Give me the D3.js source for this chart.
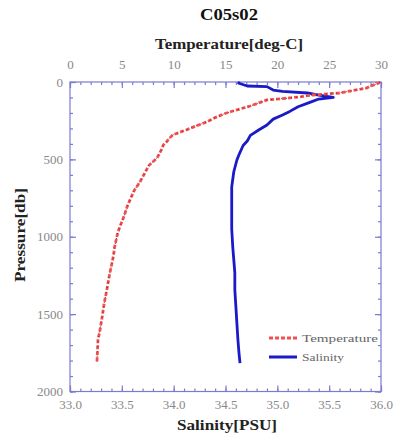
<!DOCTYPE html>
<html><head><meta charset="utf-8">
<script src="https://cdn.jsdelivr.net/npm/d3@7"></script>
<style>body{margin:0;background:#fff}svg{display:block}text{font-family:"Liberation Serif","Times New Roman",serif}</style>
</head><body><div id="c"></div>
<script>
const title = "C05s02";
const tempTicks = [0,5,10,15,20,25,30];
const salTicks = [33.0,33.5,34.0,34.5,35.0,35.5,36.0];
const presTicks = [0,500,1000,1500,2000];
// Temperature profile [pressure, temperature]
const tempPres = [0,10,26,39,55,71,84,95,103,116,135,155,178,200,230,258,280,310,342,370,388,407,440,491,540,590,646,700,760,808,870,937,976,1066,1120,1170,1250,1344,1430,1519,1600,1667,1740,1809];
const tempVals = [29.9,29.7,29.0,28.6,27.3,26.0,23.4,22.3,21.2,19.0,18.2,17.4,16.2,15.1,14.0,13.2,12.3,11.2,9.9,9.5,9.3,9.0,8.8,8.4,7.6,7.2,6.75,6.2,5.8,5.5,5.2,4.8,4.6,4.3,4.2,4.05,3.8,3.55,3.3,3.1,2.9,2.7,2.65,2.6];
// Salinity profile [pressure, salinity]
const salPres = [0,8,26,30,52,60,71,85,100,110,130,160,190,213,240,278,310,345,381,410,470,504,580,678,760,846,950,1066,1150,1234,1344,1450,1560,1667,1750,1816];
const salVals = [34.62,34.63,34.71,34.90,34.96,35.05,35.29,35.40,35.54,35.40,35.32,35.20,35.12,35.05,34.96,34.90,34.82,34.74,34.71,34.67,34.63,34.61,34.58,34.56,34.56,34.56,34.56,34.57,34.58,34.59,34.59,34.60,34.61,34.62,34.63,34.64];

const W=401,H=443, m={l:70,r:381,t:82,b:391.5};
const svg=d3.select("#c").append("svg").attr("width",W).attr("height",H);
const xT=d3.scaleLinear().domain([0,30]).range([m.l,m.r]);
const xS=d3.scaleLinear().domain([33,36]).range([m.l,m.r]);
const y=d3.scaleLinear().domain([0,2000]).range([m.t,m.b]);
const axC="#7b7bd0", lblC="#888";

svg.append("rect").attr("x",m.l).attr("y",m.t).attr("width",m.r-m.l).attr("height",m.b-m.t)
  .attr("fill","none").attr("stroke",axC).attr("stroke-width",1.2);

function styleAxis(g){
  g.select(".domain").remove();
  g.selectAll("line").attr("stroke",axC).attr("stroke-width",1.2);
  g.selectAll("text").attr("fill",lblC).attr("font-size","13px");
}
const minorT=d3.range(0,31,1), minorP=d3.range(0,2001,100);
svg.append("g").attr("transform",`translate(0,${m.t})`).call(d3.axisTop(xT).tickValues(minorT).tickSize(-3).tickFormat("")).call(styleAxis);
svg.append("g").attr("transform",`translate(0,${m.b})`).call(d3.axisBottom(xS).tickValues(minorT.map(t=>33+t/10)).tickSize(-3).tickFormat("")).call(styleAxis);
svg.append("g").attr("transform",`translate(${m.l},0)`).call(d3.axisLeft(y).tickValues(minorP).tickSize(-3).tickFormat("")).call(styleAxis);
svg.append("g").attr("transform",`translate(${m.r},0)`).call(d3.axisRight(y).tickValues(minorP).tickSize(-3).tickFormat("")).call(styleAxis);
svg.append("g").attr("transform",`translate(0,${m.t})`).call(d3.axisTop(xT).tickValues(tempTicks).tickSize(-6).tickPadding(13).tickFormat(d3.format("d"))).call(styleAxis);
svg.append("g").attr("transform",`translate(0,${m.b})`).call(d3.axisBottom(xS).tickValues(salTicks).tickSize(-6).tickPadding(8).tickFormat(d3.format(".1f"))).call(styleAxis);
svg.append("g").attr("transform",`translate(${m.l},0)`).call(d3.axisLeft(y).tickValues(presTicks).tickSize(-6).tickPadding(7).tickFormat(d3.format("d"))).call(styleAxis);
svg.append("g").attr("transform",`translate(${m.r},0)`).call(d3.axisRight(y).tickValues(presTicks).tickSize(-6).tickFormat("")).call(styleAxis);

const salLine=d3.line().x((d,i)=>xS(salVals[i])).y((d,i)=>y(salPres[i]));
svg.append("path").datum(salPres).attr("d",salLine).attr("fill","none").attr("stroke","#1a1ac8").attr("stroke-width",2.8).attr("stroke-linejoin","round");
const tLine=d3.line().x((d,i)=>xT(tempVals[i])).y((d,i)=>y(tempPres[i]));
svg.append("path").datum(tempPres).attr("d",tLine).attr("fill","none").attr("stroke","#f05050").attr("stroke-width",2.8).attr("stroke-dasharray","4,2");
svg.append("path").datum(tempPres).attr("d",tLine).attr("fill","none").attr("stroke","#902020").attr("stroke-width",1).attr("stroke-dasharray","1,4");

svg.append("text").attr("x",229).attr("y",20).attr("text-anchor","middle").attr("font-weight","bold").attr("font-size","16px").attr("fill","#111").attr("textLength",58).attr("lengthAdjust","spacingAndGlyphs").text(title);
svg.append("text").attr("x",229).attr("y",49).attr("text-anchor","middle").attr("font-weight","bold").attr("font-size","15px").attr("fill","#222").attr("textLength",148).attr("lengthAdjust","spacingAndGlyphs").text("Temperature[deg-C]");
svg.append("text").attr("x",227).attr("y",430).attr("text-anchor","middle").attr("font-weight","bold").attr("font-size","15px").attr("fill","#222").attr("textLength",100).attr("lengthAdjust","spacingAndGlyphs").text("Salinity[PSU]");
svg.append("text").attr("transform","translate(25,235) rotate(-90)").attr("text-anchor","middle").attr("font-weight","bold").attr("font-size","15px").attr("fill","#222").attr("textLength",94).attr("lengthAdjust","spacingAndGlyphs").text("Pressure[db]");

const lg=svg.append("g");
lg.append("line").attr("x1",269).attr("x2",297).attr("y1",338).attr("y2",338).attr("stroke","#f05050").attr("stroke-width",3).attr("stroke-dasharray","4,2");
lg.append("line").attr("x1",269).attr("x2",297).attr("y1",357).attr("y2",357).attr("stroke","#1a1ac8").attr("stroke-width",3);
lg.append("text").attr("x",302).attr("y",342).attr("font-size","11px").attr("fill","#666").attr("textLength",76).attr("lengthAdjust","spacingAndGlyphs").text("Temperature");
lg.append("text").attr("x",302).attr("y",361).attr("font-size","11px").attr("fill","#666").attr("textLength",42).attr("lengthAdjust","spacingAndGlyphs").text("Salinity");
</script></body></html>
